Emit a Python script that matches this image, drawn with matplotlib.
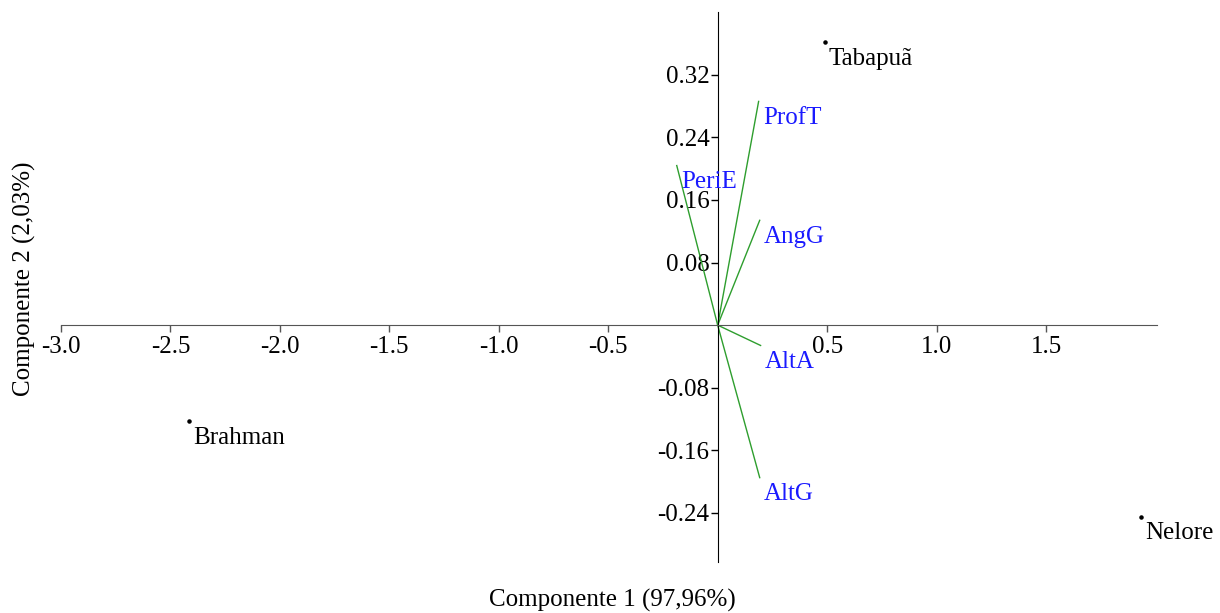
import numpy as np
import matplotlib.pyplot as plt

plt.rcParams['font.family'] = ['Liberation Serif', 'DejaVu Serif']

# scores of the breeds
breeds = ['Tabapuã', 'Brahman', 'Nelore']
breed_x = [0.489, -2.416, 1.932]
breed_y = [0.362, -0.123, -0.245]

# loading vectors of the traits
traits = ['ProfT', 'PeriE', 'AngG', 'AltA', 'AltG']
trait_x = [0.187, -0.187, 0.192, 0.196, 0.192]
trait_y = [0.286, 0.204, 0.134, -0.026, -0.195]

xticks = [-3.0, -2.5, -2.0, -1.5, -1.0, -0.5, 0.5, 1.0, 1.5]
yticks = [-0.24, -0.16, -0.08, 0.08, 0.16, 0.24, 0.32]

fig = plt.figure(figsize=(12.2, 6.13), dpi=100)
ax = fig.add_axes([0.05, 0.083, 0.898, 0.897])

for x, y in zip(trait_x, trait_y):
    ax.plot([0, x], [0, y], color='#2e9e2e', lw=1.0)
for x, y, t in zip(trait_x, trait_y, traits):
    ax.annotate(t, (x, y), xytext=(3, -4), textcoords='offset points',
                ha='left', va='top', color='#1a1aff', fontsize=18)

ax.scatter(breed_x, breed_y, s=5, color='black', zorder=3)
for x, y, t in zip(breed_x, breed_y, breeds):
    ax.annotate(t, (x, y), xytext=(3, -4), textcoords='offset points',
                ha='left', va='top', color='black', fontsize=18)

ax.set_xlim(-3.0, 2.005)
ax.set_ylim(-0.303, 0.40)
ax.spines['left'].set_position(('data', 0))
ax.spines['bottom'].set_position(('data', 0))
ax.spines['top'].set_visible(False)
ax.spines['right'].set_visible(False)
ax.spines['bottom'].set_color('#555555')
ax.spines['left'].set_color('black')
ax.set_xticks(xticks)
ax.set_xticklabels(['%.1f' % v for v in xticks])
ax.set_yticks(yticks)
ax.set_yticklabels(['%.2f' % v for v in yticks])
ax.tick_params(axis='both', labelsize=18, length=5, width=1, direction='out')
ax.tick_params(axis='x', colors='#555555', labelcolor='black', pad=3)
ax.tick_params(axis='y', pad=1)

fig.text(0.502, 0.02, 'Componente 1 (97,96%)', ha='center', va='center', fontsize=18)
fig.text(0.02, 0.545, 'Componente 2 (2,03%)', ha='center', va='center',
         rotation=90, fontsize=18)

fig.savefig('out.png', dpi=100)
